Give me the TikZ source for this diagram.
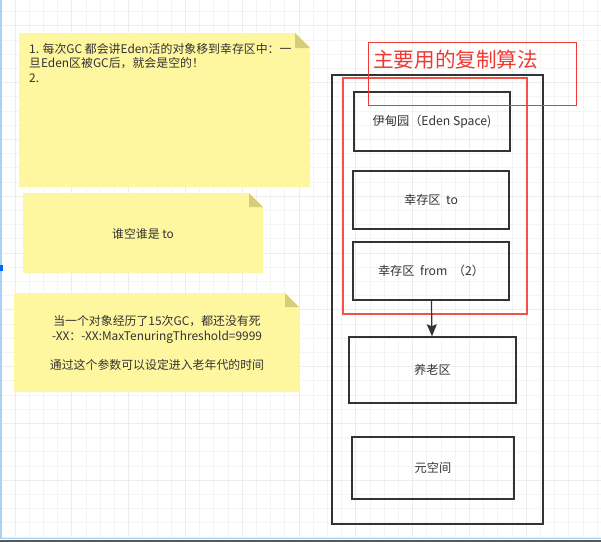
\documentclass[tikz,border=0pt]{standalone}
\usepackage{fontspec}
\setmainfont{Noto Sans CJK SC}
\usetikzlibrary{arrows.meta}
\definecolor{notefill}{RGB}{255,246,160}
\definecolor{notefold}{RGB}{214,205,122}
\definecolor{boxline}{RGB}{51,51,51}
\definecolor{redline}{RGB}{242,82,72}
\definecolor{titlered}{RGB}{238,58,52}
\definecolor{txt}{RGB}{51,51,51}
\definecolor{edgeblue}{RGB}{168,212,242}
\tikzset{
  region/.style={draw=boxline,line width=1.5pt,text=txt,font=\fontsize{12.2}{14}\selectfont},
  notetext/.style={text=txt,font=\fontsize{11.9}{14.7}\selectfont,inner sep=0pt},
}
\begin{document}
\begin{tikzpicture}[x=1pt,y=-1pt]
\useasboundingbox (0,0) rectangle (601,542);
% grid
\foreach \i in {0,...,42}{
\draw[gray!9,line width=0.8pt] ({0.8+14.2*\i},0) -- ({0.8+14.2*\i},538);
}
\foreach \i in {0,...,37}{
\draw[gray!9,line width=0.8pt] (0,{11.5+14.2*\i}) -- (601,{11.5+14.2*\i});
}
\foreach \i in {0,...,9}{
\draw[gray!14,line width=0.8pt] (0,{25.7+56.8*\i}) -- (601,{25.7+56.8*\i});
\draw[gray!14,line width=0.8pt] ({15+56.8*\i},0) -- ({15+56.8*\i},538);
}
\draw[edgeblue,line width=1.5pt] (1,0) -- (1,538);
\fill[blue!60!cyan] (0,265) rectangle (3,271);
\draw[edgeblue,line width=1.5pt] (0,538.5) -- (601,538.5);
\fill[gray!70!black] (0,540) rectangle (601,542);

% notes
\fill[notefill] (19,33) -- (295,33) -- (310,48) -- (310,187) -- (19,187) -- cycle;
\fill[notefold] (295,33) -- (295,48) -- (310,48) -- cycle;
\node[notetext,anchor=north west,align=left] (note1) at (29,43) {1. 每次GC 都会讲Eden活的对象移到幸存区中：一\\旦Eden区被GC后，就会是空的！\\2.};

\fill[notefill] (23,193) -- (249,193) -- (263,207) -- (263,273) -- (23,273) -- cycle;
\fill[notefold] (249,193) -- (249,207) -- (263,207) -- cycle;
\node[notetext] (note2) at (143,234) {谁空谁是 to};

\fill[notefill] (14,293) -- (285,293) -- (299,307) -- (299,392) -- (14,392) -- cycle;
\fill[notefold] (285,293) -- (285,307) -- (299,307) -- cycle;
\node[notetext,align=center] (note3) at (157,343) {当一个对象经历了15次GC，都还没有死\\-XX：-XX:MaxTenuringThreshold=9999\\[15pt]通过这个参数可以设定进入老年代的时间};

% heap
\node[draw=boxline,line width=1.5pt,minimum width=211,minimum height=449] (heap) at (437.5,299.5) {};
\node[draw=redline,line width=1.6pt,minimum width=184,minimum height=236] (young) at (435,196) {};

\node[region,minimum width=156,minimum height=59] (eden) at (432,121.5) {伊甸园（Eden Space)};
\node[region,minimum width=156,minimum height=58] (to) at (431,200) {幸存区~~to};
\node[region,minimum width=156,minimum height=58] (from) at (431,271) {幸存区~~from~~（2）};
\node[region,minimum width=167,minimum height=66] (old) at (432.5,370) {养老区};
\node[region,minimum width=162,minimum height=62] (meta) at (433,468) {元空间};

\draw[-{Stealth[length=12pt,width=10pt,inset=2pt]},line width=1.2pt,boxline] (from) -- (old);

\node[draw=titlered,line width=1pt,minimum width=208,minimum height=63] (algo) at (472,73.5) {};
\node[text=titlered,font=\fontsize{20.6}{22}\selectfont,anchor=west,inner sep=0pt] (title) at (373,60) {主要用的复制算法};
\end{tikzpicture}
\end{document}
